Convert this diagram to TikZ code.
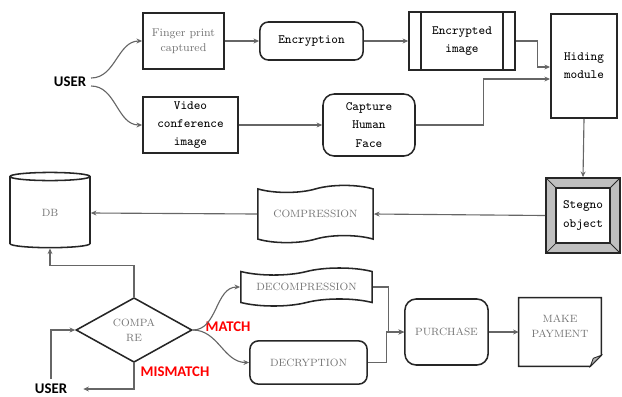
\documentclass[tikz,border=0pt]{standalone}
\usepackage{fontspec}
\setsansfont{Carlito}
\usetikzlibrary{arrows.meta}
\usetikzlibrary{positioning, shapes.geometric, shapes.symbols, calc}

\tikzset{
  box/.style={draw=black!85, line width=1.1pt, align=center, inner sep=1pt},
  rbox/.style={box, rounded corners=6pt},
  tt/.style={font=\ttfamily\fontsize{9}{13}\selectfont},
  gr/.style={text=black!55, font=\fontsize{7.5}{10.5}\selectfont},
  conn/.style={draw=black!60, line width=0.8pt, -{Stealth[length=4pt,width=3.5pt]}},
  lbl/.style={font=\sffamily\bfseries\fontsize{10.5}{12}\selectfont},
}

\begin{document}
\begin{tikzpicture}[x=0.025cm, y=-0.025cm]
  \useasboundingbox (0,0) rectangle (622,396);

  % capture and hiding
  \node[lbl] (user) at (70,82) {USER};
  \node[box, gr, font=\fontsize{8}{11}\selectfont, minimum width=2.03cm, minimum height=1.4cm] (fp) at (183.5,41) {Finger print\\captured};
  \node[rbox, tt, minimum width=2.58cm, minimum height=0.95cm] (enc) at (311.5,41) {Encryption};
  \node[box, tt, minimum width=2.65cm, minimum height=1.45cm] (ei) at (462,41) {Encrypted\\image};
  \draw[box] ($(ei.north west)+(13,0)$) -- ($(ei.south west)+(13,0)$);
  \draw[box] ($(ei.north east)+(-13,0)$) -- ($(ei.south east)+(-13,0)$);
  \node[box, tt, minimum width=2.38cm, minimum height=1.4cm] (vc) at (190.5,125) {Video\\conference\\image};
  \node[rbox, tt, rounded corners=8pt, minimum width=2.3cm, minimum height=1.55cm] (chf) at (369,125) {Capture\\Human\\Face};
  \node[box, tt, fill=white, minimum width=1.66cm, minimum height=2.6cm] (hm) at (584,66) {Hiding\\module};
  \node[box, tt, fill=black!25, minimum width=1.85cm, minimum height=1.88cm,
    path picture={
      \path[fill=white, draw=black!85, line width=1.1pt]
        ([shift={(10,10)}]path picture bounding box.north west) rectangle
        ([shift={(-10,-10)}]path picture bounding box.south east);
      \draw[black!85, line width=0.6pt]
        (path picture bounding box.north west) -- ++(10,10)
        (path picture bounding box.north east) -- ++(-10,10)
        (path picture bounding box.south east) -- ++(-10,-10)
        (path picture bounding box.south west) -- ++(10,-10);
    }] (so) at (583,215.5) {Stegno\\object};

  % storage
  \node[box, tape, gr, minimum width=2.88cm, minimum height=1.43cm] (comp) at (315.5,214) {COMPRESSION};
  \node[box, cylinder, shape border rotate=90, aspect=0.42, gr, minimum width=2cm, minimum height=1.88cm] (db) at (50,213) {DB};

  % verification
  \node[box, diamond, gr, inner sep=0pt, minimum width=2.9cm, minimum height=1.1cm] (cmp) at (134,330) {COMPA\\RE};
  \node[box, tape, gr, minimum width=3.28cm, minimum height=0.95cm] (dcomp) at (306.5,287) {DECOMPRESSION};
  \node[rbox, gr, minimum width=2.93cm, minimum height=1.08cm] (decr) at (308.5,362.5) {DECRYPTION};
  \node[rbox, gr, rounded corners=8pt, minimum width=2.08cm, minimum height=1.65cm] (pur) at (446.5,332) {PURCHASE};
  \node[gr, align=center, minimum width=2.05cm, minimum height=1.7cm, text depth=8pt] (mp) at (560,332) {MAKE\\PAYMENT};
  \draw[box] (mp.north west) -- (mp.north east) -- ($(mp.south east)+(0,-11)$)
    -- ($(mp.south east)+(-11,0)$) -- (mp.south west) -- cycle;
  \draw[draw=black!85, fill=black!30, line width=0.6pt] ($(mp.south east)+(0,-11)$)
    -- ($(mp.south east)+(-11,0)$) -- ($(mp.south east)+(-8,-8)$) -- cycle;
  \node[lbl] (user2) at (51,389) {USER};
  \node[lbl, text=red] (match) at (228,327) {MATCH};
  \node[lbl, text=red] (mismatch) at (175,372) {MISMATCH};

  % connectors
  \draw[conn] ($(user.east)+(0,-4)$) to[out=0,in=180] (fp.west);
  \draw[conn] ($(user.east)+(0,4)$) to[out=0,in=180] (vc.west);
  \draw[conn] (fp) -- (enc);
  \draw[conn] (enc) -- (ei);
  \draw[conn] (ei.east) -- ++(22,0) |- ($(hm.west)+(0,1)$);
  \draw[conn] (vc) -- (chf);
  \draw[conn] (chf.east) -- ++(68,0) |- ($(hm.west)+(0,13)$);
  \draw[conn] (hm.south) -- (so.north);
  \draw[conn] (so.west) -- (comp.east);
  \draw[conn] (comp.west) -- (db.east);
  \draw[conn] (cmp.north) -- ++(0,-31) -| (db.south);
  \draw[conn] (user2.north) |- (cmp.west);
  \draw[conn, shorten >=8pt] (cmp.south) |- (user2.east);
  \draw[conn] (cmp.east) to[out=0,in=180] (dcomp.west);
  \draw[conn] (cmp.east) to[out=0,in=180] (decr.west);
  \draw[conn] (dcomp.east) -- ++(16,0) |- (pur.west);
  \draw[conn] (decr.east) -- ++(19,0) |- (pur.west);
  \draw[conn] (pur) -- (mp);
\end{tikzpicture}
\end{document}
